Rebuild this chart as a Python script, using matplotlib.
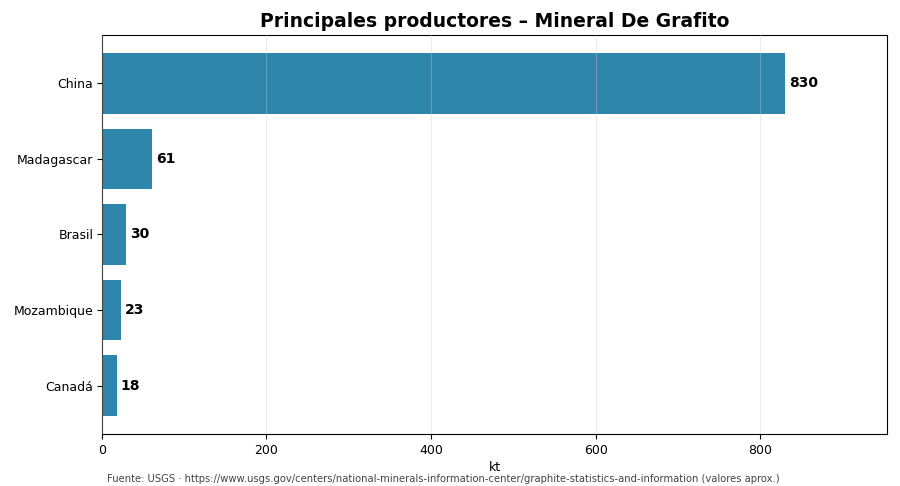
import matplotlib
matplotlib.use("Agg")
import matplotlib.pyplot as plt

countries = ["China", "Madagascar", "Brasil", "Mozambique", "Canadá"]
values = [830, 61, 30, 23, 18]

fig, ax = plt.subplots(figsize=(9, 4.86), dpi=100)
fig.subplots_adjust(left=0.113, right=0.986, top=0.928, bottom=0.107)
y = list(range(len(countries)))
ax.barh(y, values, height=0.8, color="#2E86AB", zorder=2)
ax.grid(axis="x", color="#cccccc", linewidth=0.8, alpha=0.35, zorder=3)
ax.set_axisbelow(False)
ax.invert_yaxis()
ax.set_yticks(y)
ax.set_yticklabels(countries, fontsize=9)
ax.tick_params(axis="y", pad=2.5)
ax.tick_params(axis="x", labelsize=9)
ax.set_xlim(0, max(values) * 1.15)
for yi, v in zip(y, values):
    ax.text(v + 5, yi, f"{v}", va="center", ha="left", fontsize=10, fontweight="bold", zorder=4)
ax.set_xlabel("kt", fontsize=9, labelpad=3)
ax.set_title("Principales productores – Mineral De Grafito", fontsize=13.5, fontweight="bold", pad=6)
fig.text(0.493, 0.004, "Fuente: USGS · https://www.usgs.gov/centers/national-minerals-information-center/graphite-statistics-and-information (valores aprox.)",
         ha="center", va="bottom", fontsize=7.2, color="#444444")
fig.savefig("out.png", dpi=100)
